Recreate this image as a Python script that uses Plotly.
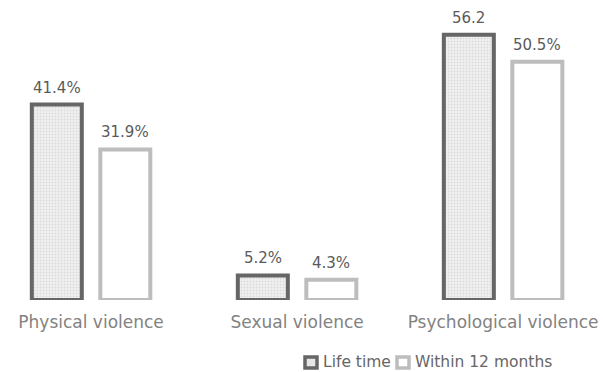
import plotly.graph_objects as go

categories = ["Physical violence", "Sexual violence", "Psychological violence"]
lifetime = [41.4, 5.2, 56.2]
within_12m = [31.9, 4.3, 50.5]
lifetime_labels = ["41.4%", "5.2%", "56.2"]
within_labels = ["31.9%", "4.3%", "50.5%"]
series_names = ["Life time", "Within 12 months"]

FONT = "DejaVu Sans"
W, H = 603, 372
M_T, M_B = 10, 72
PLOT_H = H - M_T - M_B

DARK = "#666666"
LIGHT = "#bdbdbd"
FILL = "#f1f1f1"

fig = go.Figure()
fig.add_trace(go.Bar(
    name=series_names[0], x=categories, y=lifetime,
    marker=dict(
        color=FILL,
        line=dict(color=DARK, width=4),
        pattern=dict(shape=".", fgcolor="#dadada", bgcolor=FILL,
                     size=3, solidity=0.3, fillmode="replace"),
    ),
))
fig.add_trace(go.Bar(
    name=series_names[1], x=categories, y=within_12m,
    marker=dict(color="#ffffff", line=dict(color=LIGHT, width=4)),
))

# value labels above each bar (grouped offsets: half a bar slot either side)
slot_px = 68.5
for vals, labels, sign in [(lifetime, lifetime_labels, -1), (within_12m, within_labels, 1)]:
    for cat, v, lab in zip(categories, vals, labels):
        fig.add_annotation(
            x=cat, y=v, xref="x", yref="y", text=lab, showarrow=False,
            xshift=sign * slot_px / 2, yshift=6, yanchor="bottom",
            font=dict(family=FONT, size=15, color="#5a5a5a"),
        )

# legend drawn as swatches + text below the plot
def py(p):
    return (H - M_B - p) / PLOT_H

legend_items = [
    (series_names[0], 305, 321, DARK, "#e6e6e6"),
    (series_names[1], 397, 413, LIGHT, "#ffffff"),
]
for name, sx, tx, border, inner in legend_items:
    fig.add_shape(type="rect", xref="paper", yref="paper",
                  x0=sx / W, x1=(sx + 12) / W, y0=py(368), y1=py(357),
                  line=dict(color=border, width=3.5), fillcolor=inner)
    fig.add_annotation(x=tx / W, y=py(362), xref="paper", yref="paper",
                       text=name, showarrow=False, xanchor="left", yanchor="middle",
                       font=dict(family=FONT, size=15.5, color="#666666"))

fig.update_layout(
    width=W, height=H,
    margin=dict(l=0, r=0, t=M_T, b=M_B),
    paper_bgcolor="white", plot_bgcolor="white",
    barmode="group", bargap=0.335, bargroupgap=0.27,
    font=dict(family=FONT, color="#666666"),
    showlegend=False,
    xaxis=dict(range=[-0.442, 2.485], showline=False, showgrid=False,
               ticks="outside", ticklen=7, tickcolor="rgba(0,0,0,0)",
               tickfont=dict(size=17, color="#828282", family=FONT)),
    yaxis=dict(range=[0, 61.44], visible=False),
)

fig.write_html("out.html")
